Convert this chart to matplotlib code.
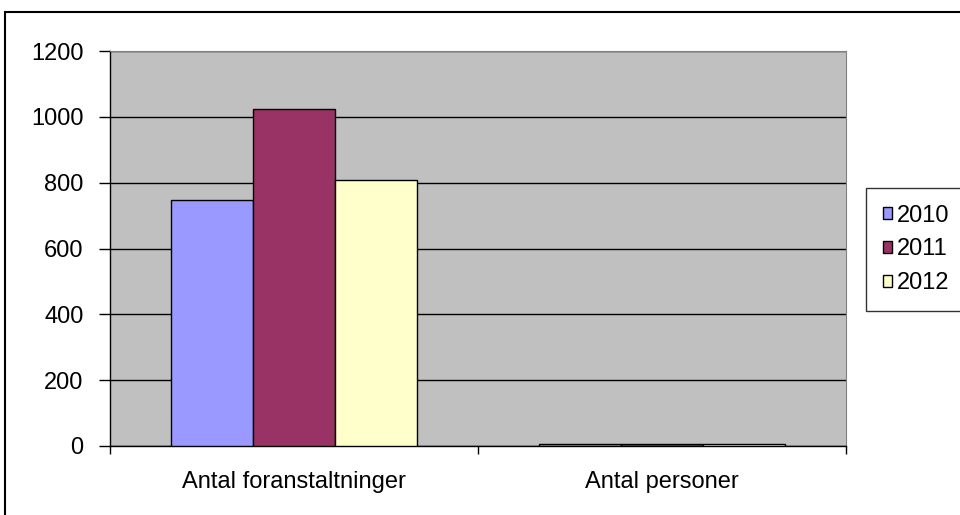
import numpy as np
import matplotlib
matplotlib.use("Agg")
import matplotlib.pyplot as plt
import matplotlib.patches as mpatches

plt.rcParams['font.family'] = ['Liberation Sans', 'DejaVu Sans']

categories = ["Antal foranstaltninger", "Antal personer"]
years = ["2010", "2011", "2012"]
values = {
    "2010": [747, 5],
    "2011": [1024, 5],
    "2012": [808, 5],
}
colors = {"2010": "#9999FF", "2011": "#993366", "2012": "#FFFFCC"}

FS = 17

fig = plt.figure(figsize=(9.6, 5.15), dpi=100)
ax = fig.add_axes([110 / 960, 1 - 446 / 515, 736 / 960, 395 / 515])
ax.set_facecolor("#C0C0C0")

# outer chart border (right and bottom edges run off the image)
fig.patches.append(mpatches.Rectangle((5 / 960, -0.05), 1.1, 1 - 12 / 515 + 0.05,
                                      transform=fig.transFigure, fill=False,
                                      edgecolor="black", linewidth=1.5))

x = np.arange(len(categories))
bar_w = 0.668 / 3
for i, yr in enumerate(years):
    ax.bar(x + (i - 1) * bar_w, values[yr], width=bar_w, color=colors[yr],
           edgecolor="black", linewidth=1.0, label=yr, zorder=3)

ax.set_ylim(0, 1200)
ax.set_yticks(np.arange(0, 1201, 200))
ax.set_xlim(-0.5, 1.5)
ax.yaxis.grid(True, color="black", linewidth=1.0, zorder=1)
ax.set_axisbelow(True)

# category ticks sit on the boundaries, labels at centers
ax.set_xticks([-0.5, 0.5, 1.5])
ax.set_xticklabels([])
ax.set_xticks(x, minor=True)
ax.set_xticklabels(categories, minor=True)
ax.tick_params(axis="x", which="major", direction="out", length=6, width=1)
ax.tick_params(axis="x", which="minor", length=0, pad=18, labelsize=FS)
ax.tick_params(axis="y", direction="out", length=8, width=1, labelsize=FS, pad=11)

for side in ["top", "right"]:
    ax.spines[side].set_color("#808080")
for side in ["left", "bottom"]:
    ax.spines[side].set_color("black")
    ax.spines[side].set_linewidth(1.0)

leg = fig.legend(loc="upper left", bbox_to_anchor=(866 / 960, 1 - 188 / 515),
                 frameon=True, fancybox=False, edgecolor="black", fontsize=FS,
                 handlelength=0.42, handleheight=0.42, handletextpad=0.2,
                 labelspacing=0.5, borderpad=0.7, borderaxespad=0)
leg.get_frame().set_linewidth(1.0)

fig.savefig("out.png", dpi=100)
